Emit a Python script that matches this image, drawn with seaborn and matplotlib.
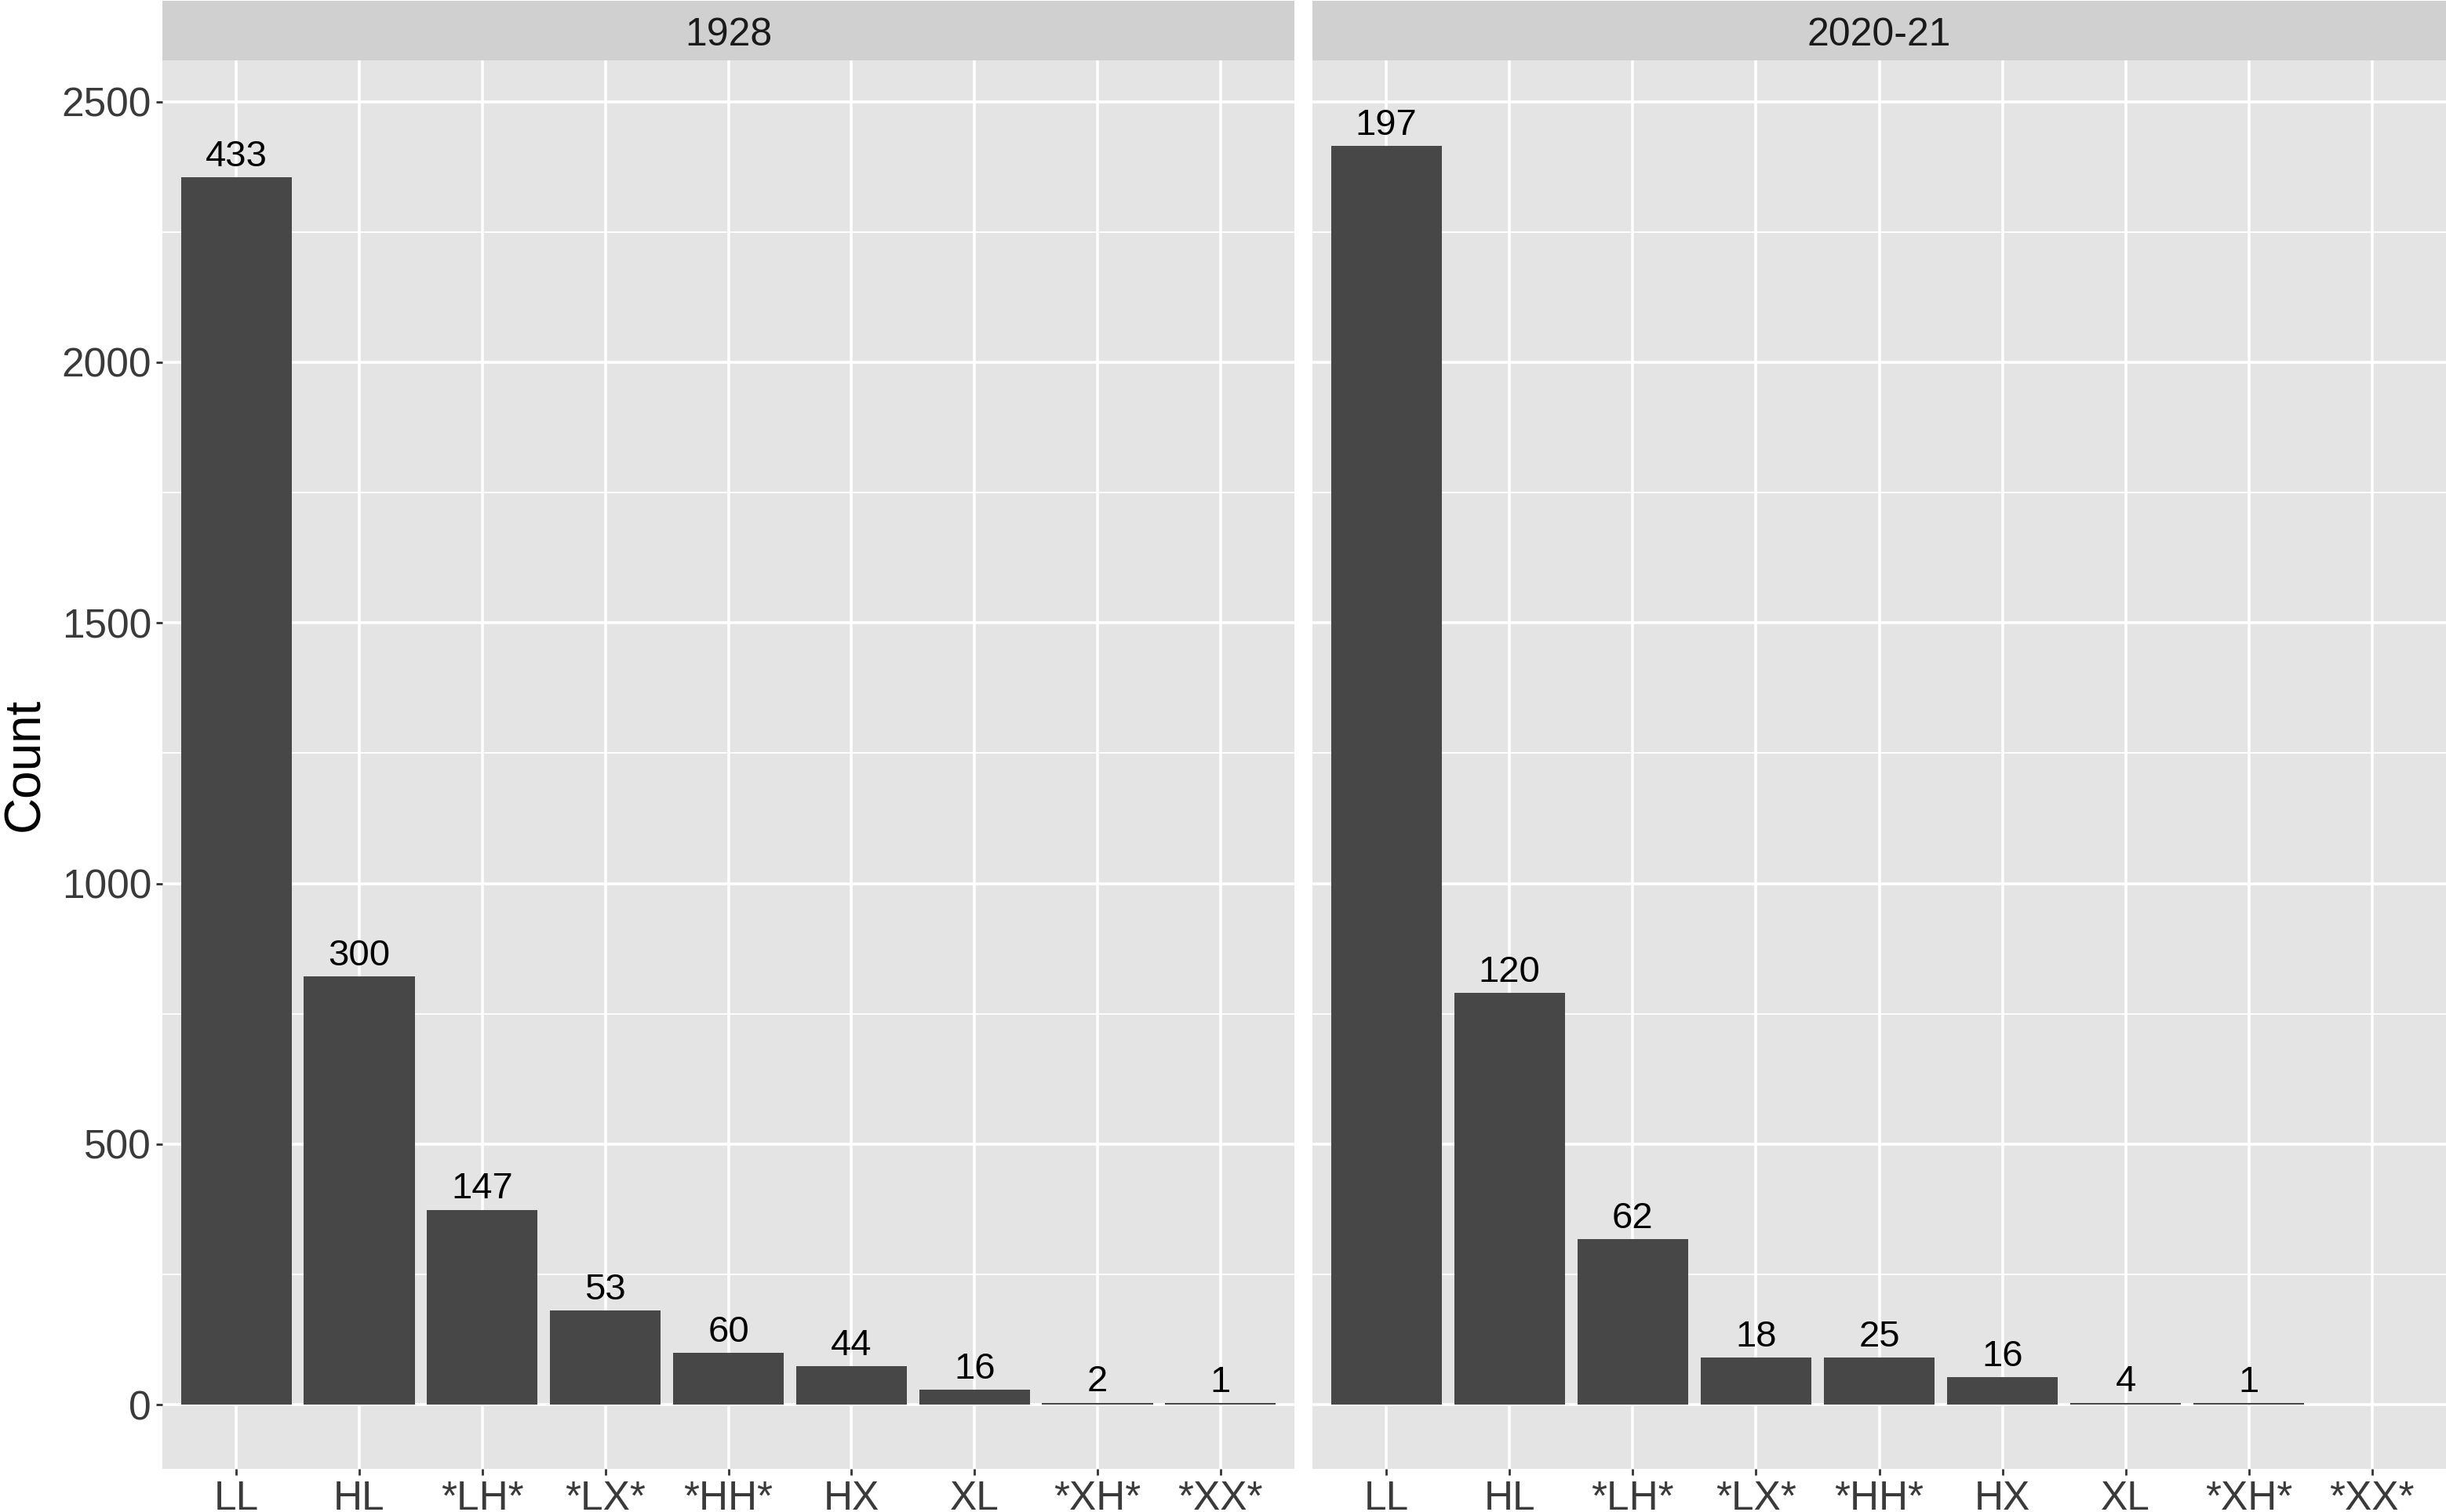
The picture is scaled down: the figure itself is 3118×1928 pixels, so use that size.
import pandas as pd
import matplotlib
matplotlib.use("Agg")
import matplotlib.pyplot as plt
import seaborn as sns

# Categories and values
patterns = ["LL", "HL", "*LH*", "*LX*", "*HH*", "HX", "XL", "*XH*", "*XX*"]
periods = ["1928", "2020-21"]

counts_1928 = [2355, 822, 374, 181, 99, 74, 29, 4, 3]
labels_1928 = [433, 300, 147, 53, 60, 44, 16, 2, 1]

counts_2020 = [2415, 790, 318, 90, 90, 53, 4, 3, 0]
labels_2020 = [197, 120, 62, 18, 25, 16, 4, 1, None]

df = pd.DataFrame({
    "period": [periods[0]] * len(patterns) + [periods[1]] * len(patterns),
    "pattern": patterns * 2,
    "count": counts_1928 + counts_2020,
    "label": labels_1928 + labels_2020,
})

sns.set_theme(style="darkgrid")
plt.rcParams["font.family"] = ["Liberation Sans", "DejaVu Sans"]

W, H = 3118, 1928
fig = plt.figure(figsize=(W / 200, H / 200), dpi=200)

panel_bg = "#E4E4E4"
strip_bg = "#D0D0D0"
bar_col = "#474747"

# panel boxes in pixels: (left, right)
panels = [(207, 1650), (1673, 3118)]
top_px, bottom_px = 77, 1873
strip_top = 1

for i, (period, (x0, x1)) in enumerate(zip(periods, panels)):
    ax = fig.add_axes([x0 / W, 1 - bottom_px / H, (x1 - x0) / W, (bottom_px - top_px) / H])
    sub = df[df["period"] == period]
    sns.barplot(data=sub, x="pattern", y="count", order=patterns,
                color=bar_col, width=0.9, saturation=1, ax=ax, linewidth=0)

    for j, row in enumerate(sub.itertuples()):
        if row.label is None or pd.isna(row.label):
            continue
        ax.annotate(str(int(row.label)), (j, row.count), xytext=(0, 1.5),
                    textcoords="offset points", ha="center", va="bottom",
                    fontsize=17, color="black")

    ax.set_facecolor(panel_bg)
    ax.set_xlim(-0.6, 8.6)
    ax.set_ylim(-123, 2579)
    ax.set_yticks([0, 500, 1000, 1500, 2000, 2500])
    ax.set_yticks([250, 750, 1250, 1750, 2250], minor=True)
    ax.grid(which="major", color="white", linewidth=1.3)
    ax.grid(which="minor", axis="y", color="white", linewidth=0.65)
    ax.set_axisbelow(True)
    for s in ax.spines.values():
        s.set_visible(False)
    ax.set_xlabel("")
    ax.tick_params(axis="x", which="major", bottom=True, length=3, width=1,
                   color="#333333", labelsize=18.5, labelcolor="#3a3a3a", pad=2)
    ax.tick_params(axis="y", which="minor", left=False)
    if i == 0:
        ax.set_ylabel("Count", fontsize=23, color="black", labelpad=6)
        ax.tick_params(axis="y", which="major", left=True, length=3, width=1,
                       color="#333333", labelsize=18.5, labelcolor="#3a3a3a", pad=2)
    else:
        ax.set_ylabel("")
        ax.tick_params(axis="y", which="major", left=False, labelleft=False)

    # facet strip
    sax = fig.add_axes([x0 / W, 1 - top_px / H, (x1 - x0) / W, (top_px - strip_top) / H])
    sax.set_facecolor(strip_bg)
    sax.set_xticks([])
    sax.set_yticks([])
    sax.grid(False)
    for s in sax.spines.values():
        s.set_visible(False)
    sax.text(0.5, 0.42, period, ha="center", va="center", fontsize=18,
             color="#1a1a1a", transform=sax.transAxes)

fig.savefig("out.png", dpi=200, facecolor="white")
